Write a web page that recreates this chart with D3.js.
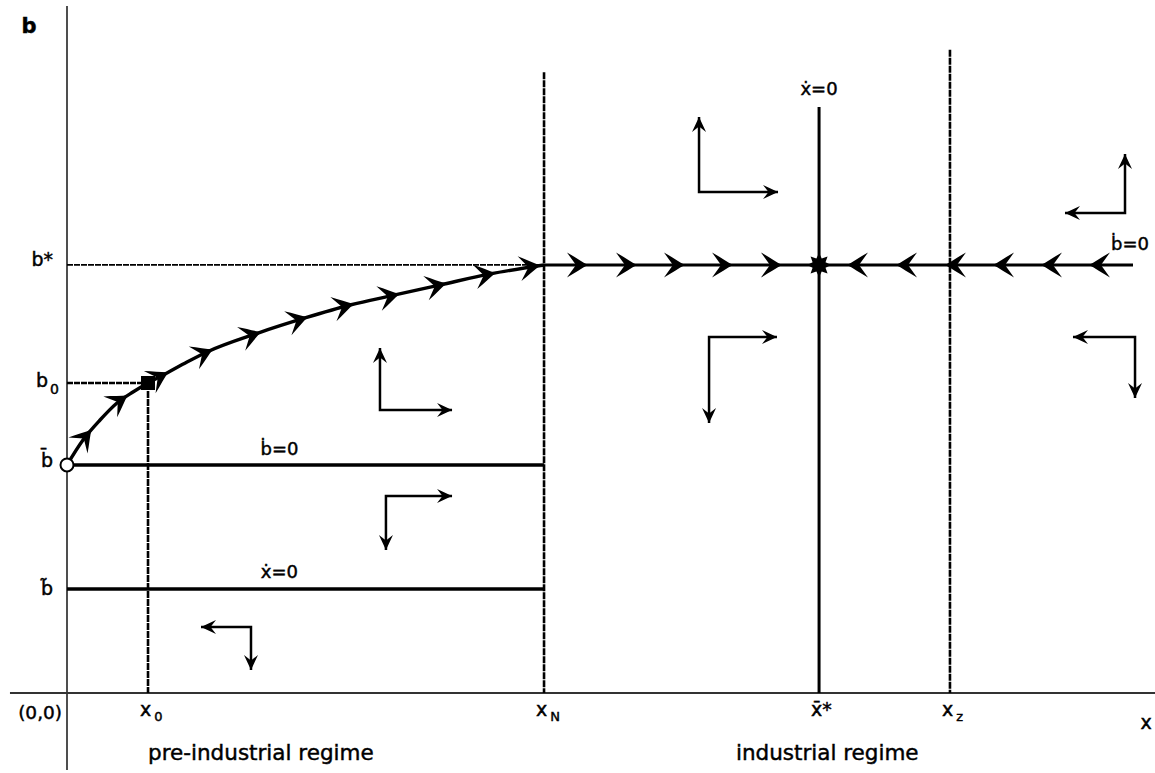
<!DOCTYPE html>
<html><head><meta charset="utf-8">
<script src="https://cdn.jsdelivr.net/npm/d3@7"></script>
<style>
body{margin:0;background:#fff;}
svg{display:block;font-family:"DejaVu Sans",sans-serif;}
text{fill:#000;stroke:#000;stroke-width:0.45px;}
</style>
</head><body>
<svg id="c" width="1155" height="773"></svg>
<script>
// ---------- data (model units) ----------
const xTickValues = [0.76, 4.475, 7.055, 8.283];          // x0, xN, x̄*, xz
const xTickMain   = ["x", "x", "x\u0304*", "x"];
const xTickSub    = ["0", "N", "", "z"];
const bTickValues = [4.0, 2.897, 2.131, 0.972];           // b*, b0, b̄, b̃
const bTickMain   = ["b*", "b", "b\u0304", "b\u0303"];
const bTickSub    = ["", "0", "", ""];
const xMax = 10;                                           // right end of b* locus
// saddle path from (0, b̄) to (xN, b*)
const curveX = [0, 0.150, 0.310, 0.469, 0.619, 0.760, 0.938, 1.126, 1.313, 1.792, 2.233, 2.655, 3.077, 3.499, 3.968, 4.475];
const curveB = [2.131, 2.364, 2.551, 2.710, 2.813, 2.897, 2.991, 3.093, 3.187, 3.364, 3.505, 3.626, 3.720, 3.813, 3.916, 4.000];
const curveArrowX = [0.23, 0.57, 0.95, 1.37, 1.82, 2.26, 2.69, 3.12, 3.56, 4.02, 4.44];
const rightArrowX = [4.887, 5.347, 5.797, 6.248, 6.707];
const leftArrowX  = [7.317, 7.777, 8.236, 8.687, 9.137, 9.587];
// upper ends of vertical loci: xN, x̄*, xz
const vTopB = [5.80, 5.477, 6.01];
// phase arrows: corner x, corner b, horizontal end x, vertical end b
const phaseCornerX = [2.936, 2.992, 1.726, 5.929, 6.023, 9.925, 10.019];
const phaseCornerB = [2.645, 1.841, 0.617, 4.682, 3.327, 4.486, 3.327];
const phaseEndX    = [3.612, 3.612, 1.257, 6.670, 6.660, 9.362, 9.437];
const phaseEndB    = [3.224, 1.336, 0.215, 5.383, 2.523, 5.037, 2.757];

// ---------- scales ----------
const svg = d3.select("#c");
const x = d3.scaleLinear().domain([0, 10]).range([67, 1133]);
const y = d3.scaleLinear().domain([0, 6.42]).range([693, 6]);
const ink = "#000";

// axes
svg.append("line").attr("x1", x(0)).attr("x2", x(0)).attr("y1", y(6.42)).attr("y2", y(-0.72))
  .attr("stroke", "#222").attr("stroke-width", 1.6);
svg.append("line").attr("x1", x(-0.535)).attr("x2", x(10.21)).attr("y1", y(0)).attr("y2", y(0))
  .attr("stroke", "#333").attr("stroke-width", 2);

// dashed guides: b* (left part), b0
svg.append("line").attr("x1", x(0)).attr("x2", x(xTickValues[1])).attr("y1", y(bTickValues[0])).attr("y2", y(bTickValues[0]))
  .attr("stroke", ink).attr("stroke-width", 1.8).attr("stroke-dasharray", "6,1");
svg.append("line").attr("x1", x(0)).attr("x2", x(xTickValues[0])).attr("y1", y(bTickValues[1])).attr("y2", y(bTickValues[1]))
  .attr("stroke", ink).attr("stroke-width", 2.4).attr("stroke-dasharray", "6,1");
// vertical x0 dashed
svg.append("line").attr("x1", x(xTickValues[0])).attr("x2", x(xTickValues[0])).attr("y1", y(bTickValues[1])).attr("y2", y(0))
  .attr("stroke", ink).attr("stroke-width", 2.6).attr("stroke-dasharray", "7,1");
// xN and xz dashed verticals
[[xTickValues[1], vTopB[0]], [xTickValues[3], vTopB[2]]].forEach(([xv, bt]) => {
  svg.append("line").attr("x1", x(xv)).attr("x2", x(xv)).attr("y1", y(bt)).attr("y2", y(0))
    .attr("stroke", ink).attr("stroke-width", 2.6).attr("stroke-dasharray", "7,1");
});
// x̄* solid vertical
svg.append("line").attr("x1", x(xTickValues[2])).attr("x2", x(xTickValues[2])).attr("y1", y(vTopB[1])).attr("y2", y(0))
  .attr("stroke", ink).attr("stroke-width", 3);
// b̄ and b̃ horizontal loci (pre-industrial)
[bTickValues[2], bTickValues[3]].forEach(bv => {
  svg.append("line").attr("x1", x(0)).attr("x2", x(xTickValues[1])).attr("y1", y(bv)).attr("y2", y(bv))
    .attr("stroke", ink).attr("stroke-width", 3.4);
});
// b* locus (industrial)
svg.append("line").attr("x1", x(xTickValues[1])).attr("x2", x(xMax)).attr("y1", y(bTickValues[0])).attr("y2", y(bTickValues[0]))
  .attr("stroke", ink).attr("stroke-width", 3);

// saddle path
const curveData = curveX.map((v, i) => [v, curveB[i]]);
const line = d3.line().x(d => x(d[0])).y(d => y(d[1])).curve(d3.curveMonotoneX);
const path = svg.append("path").attr("d", line(curveData)).attr("fill", "none")
  .attr("stroke", ink).attr("stroke-width", 3.4);

// chevron arrowhead (tip at origin, pointing +x)
const chevron = "M0,0 C-6,-3 -13,-8 -21,-12.5 L-12,0 L-21,12.5 C-13,8 -6,3 0,0 Z";
const pnode = path.node();
const total = pnode.getTotalLength();
function pointAtX(px) {
  let lo = 0, hi = total;
  for (let k = 0; k < 40; k++) {
    const mid = (lo + hi) / 2;
    if (pnode.getPointAtLength(mid).x < px) lo = mid; else hi = mid;
  }
  return lo;
}
curveArrowX.forEach(v => {
  const L = pointAtX(x(v));
  const p = pnode.getPointAtLength(L);
  const q = pnode.getPointAtLength(Math.max(0, L - 6));
  const ang = Math.atan2(p.y - q.y, p.x - q.x) * 180 / Math.PI;
  svg.append("path").attr("d", chevron).attr("fill", ink)
    .attr("transform", `translate(${p.x},${p.y}) rotate(${ang})`);
});
rightArrowX.forEach(v => {
  svg.append("path").attr("d", chevron).attr("fill", ink)
    .attr("transform", `translate(${x(v)},${y(bTickValues[0])})`);
});
leftArrowX.forEach(v => {
  svg.append("path").attr("d", chevron).attr("fill", ink)
    .attr("transform", `translate(${x(v)},${y(bTickValues[0])}) rotate(180)`);
});

// markers: open circle at (0,b̄), square at (x0,b0), star at (x̄*,b*)
svg.append("circle").attr("cx", x(0)).attr("cy", y(bTickValues[2])).attr("r", 6.5)
  .attr("fill", "#fff").attr("stroke", ink).attr("stroke-width", 2);
svg.append("rect").attr("x", x(xTickValues[0]) - 7).attr("y", y(bTickValues[1]) - 7)
  .attr("width", 14).attr("height", 14).attr("fill", ink);
const starPts = d3.range(16).map(i => {
  const r = i % 2 === 0 ? 12 : 7;
  const a = i * Math.PI / 8 - Math.PI / 2;
  return [Math.cos(a) * r, Math.sin(a) * r];
});
svg.append("path").attr("d", "M" + starPts.join("L") + "Z").attr("fill", ink)
  .attr("transform", `translate(${x(xTickValues[2])},${y(bTickValues[0])})`);

// phase (direction) arrows
const head = "M0,0 L-15,-7 L-9.5,0 L-15,7 Z";
phaseCornerX.forEach((cx, i) => {
  const X0 = x(cx), Y0 = y(phaseCornerB[i]), XH = x(phaseEndX[i]), YV = y(phaseEndB[i]);
  svg.append("path").attr("d", `M${XH},${Y0} L${X0},${Y0} L${X0},${YV}`)
    .attr("fill", "none").attr("stroke", ink).attr("stroke-width", 2.5);
  svg.append("path").attr("d", head).attr("fill", ink)
    .attr("transform", `translate(${XH},${Y0}) rotate(${XH > X0 ? 0 : 180})`);
  svg.append("path").attr("d", head).attr("fill", ink)
    .attr("transform", `translate(${X0},${YV}) rotate(${YV < Y0 ? -90 : 90})`);
});

// ---------- text ----------
const fs = 19;
svg.append("text").attr("x", 29).attr("y", 33).attr("text-anchor", "middle")
  .attr("font-size", 21).attr("font-weight", "bold").text("b");
svg.append("text").attr("x", 1146).attr("y", 729).attr("text-anchor", "middle")
  .attr("font-size", fs).text("x");
svg.append("text").attr("x", 62).attr("y", 719).attr("text-anchor", "end")
  .attr("font-size", 18.5).text("(0,0)");

// x tick labels
xTickValues.forEach((v, i) => {
  const t = svg.append("text").attr("x", x(v) - 8).attr("y", 716).attr("font-size", fs);
  t.append("tspan").text(xTickMain[i]);
  if (xTickSub[i]) t.append("tspan").attr("dx", 3).attr("dy", 5).attr("font-size", 13).text(xTickSub[i]);
});
// b tick labels
const bDy = [1, 4, 2, 6];
bTickValues.forEach((v, i) => {
  const t = svg.append("text").attr("x", bTickSub[i] ? 36 : 53).attr("y", y(v) + bDy[i])
    .attr("text-anchor", bTickSub[i] ? "start" : "end").attr("font-size", fs);
  t.append("tspan").text(bTickMain[i]);
  if (bTickSub[i]) t.append("tspan").attr("dx", 2).attr("dy", 7).attr("font-size", 14).text(bTickSub[i]);
});

// locus labels
svg.append("text").attr("x", x(xTickValues[2])).attr("y", y(5.59)).attr("text-anchor", "middle")
  .attr("font-size", 18).text("\u1E8B=0");
svg.append("text").attr("x", 1149).attr("y", y(bTickValues[0]) - 15).attr("text-anchor", "end")
  .attr("font-size", 18).text("\u1E03=0");
svg.append("text").attr("x", x(1.993)).attr("y", y(bTickValues[2]) - 10).attr("text-anchor", "middle")
  .attr("font-size", 18).text("\u1E03=0");
svg.append("text").attr("x", x(1.993)).attr("y", y(bTickValues[3]) - 11).attr("text-anchor", "middle")
  .attr("font-size", 18).text("\u1E8B=0");

// regime labels
svg.append("text").attr("x", x(xTickValues[0])).attr("y", 760).attr("font-size", 21.5).text("pre-industrial regime");
svg.append("text").attr("x", x(6.275)).attr("y", 760).attr("font-size", 21.5).text("industrial regime");
</script>
</body></html>
